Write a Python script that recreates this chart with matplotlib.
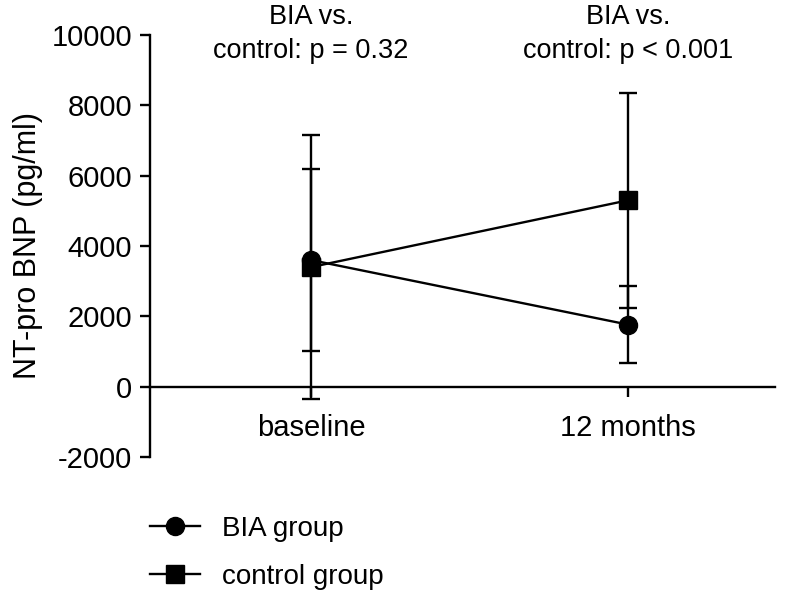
import matplotlib
matplotlib.use("Agg")
import matplotlib.pyplot as plt

# values
timepoints = ["baseline", "12 months"]
bia_mean = [3600, 1765]
bia_err = [2590, 1090]
control_mean = [3400, 5300]
control_err = [3750, 3060]
p_labels = ["BIA vs.\ncontrol: p = 0.32", "BIA vs.\ncontrol: p < 0.001"]

plt.rcParams["font.family"] = ["Liberation Sans", "DejaVu Sans"]
plt.rcParams["axes.unicode_minus"] = False

fig = plt.figure(figsize=(7.87, 5.96), dpi=100)
ax = fig.add_axes([0.1906, 0.2332, 0.7944, 0.7081])

x = list(range(len(timepoints)))
ax.errorbar(x, bia_mean, yerr=bia_err, color="black", lw=1.7, marker="o",
            ms=13, capsize=6.5, capthick=1.7, label="BIA group", zorder=3)
ax.errorbar(x, control_mean, yerr=control_err, color="black", lw=1.7, marker="s",
            ms=13, capsize=6.5, capthick=1.7, label="control group", zorder=3)

ax.set_xlim(-0.508, 1.464)
ax.set_ylim(-2000, 10000)
ax.set_yticks(range(-2000, 10001, 2000))
ax.set_xticks(x)
ax.set_xticklabels(timepoints)
ax.spines["top"].set_visible(False)
ax.spines["right"].set_visible(False)
ax.spines["bottom"].set_position(("data", 0))
ax.spines["left"].set_linewidth(1.7)
ax.spines["bottom"].set_linewidth(1.7)
ax.tick_params(axis="both", labelsize=21, width=1.7, length=7, direction="out")
ax.tick_params(axis="x", pad=13)
ax.tick_params(axis="y", pad=6)
ax.set_ylabel("NT-pro BNP (pg/ml)", fontsize=22, labelpad=6)

for xi, txt in zip(x, p_labels):
    ax.annotate(txt, xy=(xi, 1 - 4 / 596), xycoords=("data", "figure fraction"),
                ha="center", va="top", fontsize=19.5, linespacing=1.4,
                annotation_clip=False)

handles, labels = ax.get_legend_handles_labels()
handles = [h[0] for h in handles]
fig.legend(handles, labels, loc="upper left", bbox_to_anchor=(0.19, 0.135),
           frameon=False, fontsize=20, handlelength=1.8, handletextpad=0.8,
           labelspacing=0.8, borderaxespad=0, borderpad=0)

fig.savefig("out.png", dpi=100)
